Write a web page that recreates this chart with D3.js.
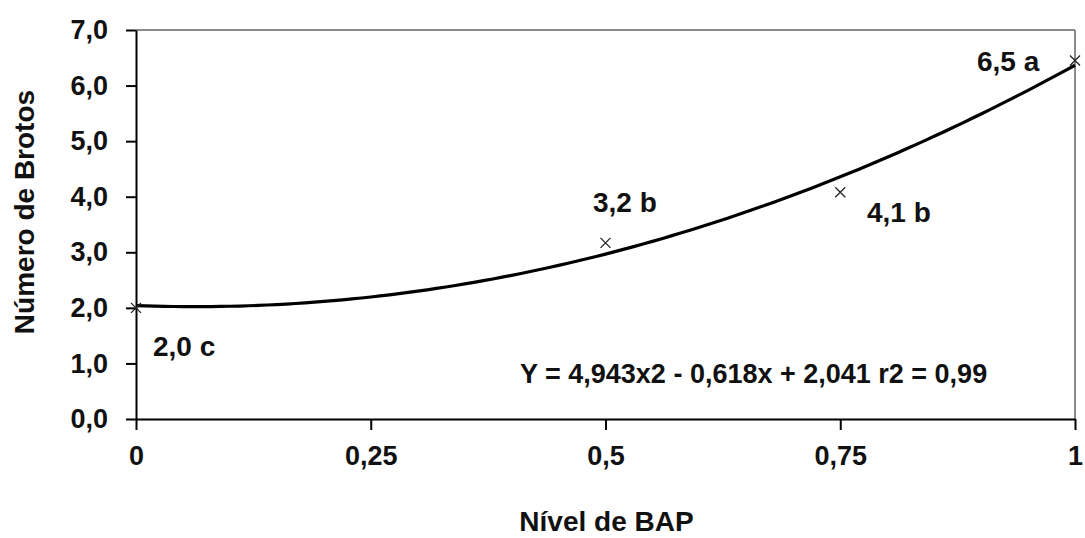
<!DOCTYPE html>
<html>
<head>
<meta charset="utf-8">
<script src="https://cdn.jsdelivr.net/npm/d3@7/dist/d3.min.js"></script>
<style>
  html, body { margin: 0; padding: 0; background: #fff; }
  svg { display: block; }
  text { font-family: "Liberation Sans", Arial, sans-serif; font-weight: bold; fill: #111; }
</style>
</head>
<body>
<svg id="chart" width="1085" height="538"></svg>
<script>
// ---- data ----
const levels = [0, 0.5, 0.75, 1];
const brotos = [2.0, 3.17, 4.08, 6.45];
const pointLabels = ["2,0 c", "3,2 b", "4,1 b", "6,5 a"];
const fitCoef = [2.041, -0.618, 4.943]; // c0, c1, c2
const equationText = "Y = 4,943x2 - 0,618x + 2,041 r2 = 0,99";
const xTicks = [0, 0.25, 0.5, 0.75, 1];
const xTickLabels = ["0", "0,25", "0,5", "0,75", "1"];
const yTicks = [0, 1, 2, 3, 4, 5, 6, 7];
const yTickLabels = ["0,0", "1,0", "2,0", "3,0", "4,0", "5,0", "6,0", "7,0"];
const xTitle = "Nível de BAP";
const yTitle = "Número de Brotos";

// ---- layout ----
const svg = d3.select("#chart");
const L = 136, R = 1075, T = 30, B = 419;
const x = d3.scaleLinear().domain([0, 1]).range([L, R]);
const y = d3.scaleLinear().domain([0, 7]).range([B, T]);
const fs = 27;

// border top/right (gray)
svg.append("line").attr("x1", L).attr("x2", R).attr("y1", T).attr("y2", T)
  .attr("stroke", "#8a8a8a").attr("stroke-width", 2);
svg.append("line").attr("x1", R).attr("x2", R).attr("y1", T).attr("y2", B)
  .attr("stroke", "#8a8a8a").attr("stroke-width", 2);

// y axis
const yAxis = d3.axisLeft(y).tickValues(yTicks)
  .tickFormat((d, i) => yTickLabels[i]).tickSize(10).tickSizeOuter(0).tickPadding(18);
const gy = svg.append("g").attr("transform", `translate(${L},0)`).call(yAxis);
gy.select(".domain").attr("stroke", "#000").attr("stroke-width", 2);
gy.selectAll(".tick line").attr("stroke", "#000").attr("stroke-width", 2);
gy.selectAll(".tick text").style("font-size", fs + "px").attr("fill", "#111")
  .style("font-family", '"Liberation Sans", Arial, sans-serif').style("font-weight", "bold");

// x axis
const xAxis = d3.axisBottom(x).tickValues(xTicks)
  .tickFormat((d, i) => xTickLabels[i]).tickSize(11).tickSizeOuter(0).tickPadding(16);
const gx = svg.append("g").attr("transform", `translate(0,${B})`).call(xAxis);
gx.select(".domain").attr("stroke", "#000").attr("stroke-width", 2);
gx.selectAll(".tick line").attr("stroke", "#000").attr("stroke-width", 2);
gx.selectAll(".tick text").style("font-size", fs + "px").attr("fill", "#111")
  .style("font-family", '"Liberation Sans", Arial, sans-serif').style("font-weight", "bold");

// trend curve from fitted equation
const fit = v => fitCoef[0] + fitCoef[1] * v + fitCoef[2] * v * v;
const curveX = d3.range(0, 1.0001, 0.01);
svg.append("path")
  .datum(curveX)
  .attr("fill", "none").attr("stroke", "#000").attr("stroke-width", 3.2)
  .attr("d", d3.line().x(d => x(d)).y(d => y(fit(d))));

// markers (x shape)
const m = 5;
const pts = svg.append("g");
levels.forEach((lv, i) => {
  const cx = x(lv), cy = y(brotos[i]);
  pts.append("path")
    .attr("d", `M${cx - m},${cy - m}L${cx + m},${cy + m}M${cx - m},${cy + m}L${cx + m},${cy - m}`)
    .attr("stroke", "#222").attr("stroke-width", 1.3).attr("fill", "none");
});

// point labels
const labelPos = [[153, 356], [593, 212], [867, 222], [977, 71]];
pointLabels.forEach((t, i) => {
  svg.append("text").attr("x", labelPos[i][0]).attr("y", labelPos[i][1])
    .style("font-size", "28px").text(t);
});

// equation
svg.append("text").attr("x", 520).attr("y", 383)
  .style("font-size", fs + "px").text(equationText);

// axis titles
svg.append("text").attr("x", (L + R) / 2 + 1).attr("y", 531)
  .attr("text-anchor", "middle").style("font-size", "28px").text(xTitle);
svg.append("text")
  .attr("transform", `translate(34,212) rotate(-90)`)
  .attr("text-anchor", "middle").style("font-size", "28px").text(yTitle);
</script>
</body>
</html>
